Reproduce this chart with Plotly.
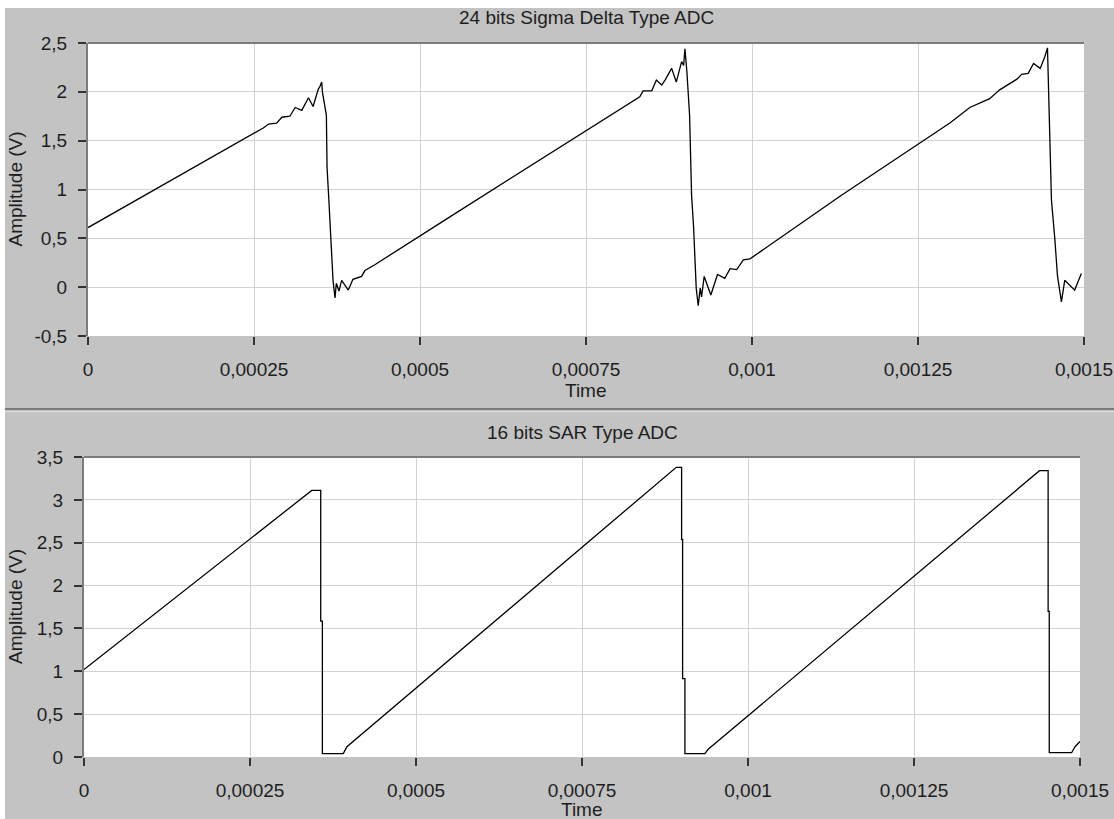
import plotly.graph_objects as go

W, H = 1114, 819

# ---------------- data ----------------
sd_title = "24 bits Sigma Delta Type ADC"
sar_title = "16 bits SAR Type ADC"
x_label = "Time"
y_label = "Amplitude (V)"

sd_time = [0, 2.44e-4, 2.64e-4, 2.72e-4, 2.84e-4, 2.92e-4, 3.04e-4, 3.12e-4, 3.22e-4,
           3.32e-4, 3.39e-4, 3.47e-4, 3.49e-4, 3.52e-4, 3.53e-4, 3.59e-4, 3.60e-4,
           3.63e-4, 3.66e-4, 3.69e-4, 3.72e-4, 3.74e-4, 3.78e-4, 3.82e-4, 3.92e-4,
           3.99e-4, 4.12e-4, 4.17e-4, 4.32e-4, 5.45e-4,
           8.31e-4, 8.36e-4, 8.49e-4, 8.56e-4, 8.64e-4, 8.69e-4, 8.79e-4, 8.86e-4,
           8.94e-4, 8.97e-4, 8.99e-4, 9.02e-4, 9.06e-4, 9.07e-4, 9.09e-4, 9.12e-4,
           9.14e-4, 9.16e-4, 9.19e-4, 9.22e-4, 9.24e-4, 9.28e-4, 9.38e-4, 9.48e-4,
           9.59e-4, 9.67e-4, 9.77e-4, 9.87e-4, 9.97e-4, 1.1325e-3,
           1.298e-3, 1.321e-3, 1.328e-3, 1.358e-3, 1.373e-3, 1.399e-3, 1.406e-3,
           1.416e-3, 1.424e-3, 1.434e-3, 1.441e-3, 1.445e-3, 1.446e-3, 1.449e-3,
           1.451e-3, 1.456e-3, 1.460e-3, 1.464e-3, 1.466e-3, 1.471e-3, 1.486e-3,
           1.496e-3]
sd_volts = [0.61, 1.56, 1.63, 1.67, 1.68, 1.74, 1.75, 1.84, 1.81,
            1.94, 1.85, 2.03, 2.05, 2.10, 2.00, 1.76, 1.23,
            0.86, 0.47, 0.07, -0.11, 0.04, -0.04, 0.07, -0.03,
            0.08, 0.11, 0.17, 0.23, 0.72,
            1.95, 2.01, 2.01, 2.12, 2.07, 2.12, 2.24, 2.10,
            2.31, 2.27, 2.44, 2.20, 1.76, 1.34, 0.94, 0.62,
            0.30, -0.01, -0.19, -0.01, -0.10, 0.11, -0.08, 0.13,
            0.09, 0.19, 0.18, 0.28, 0.29, 0.93,
            1.68, 1.81, 1.84, 1.93, 2.02, 2.13, 2.18,
            2.19, 2.29, 2.24, 2.36, 2.45, 2.15, 1.52,
            0.89, 0.50, 0.12, -0.06, -0.15, 0.07, -0.03,
            0.14]

sar_time = [0, 3.43e-4, 3.565e-4, 3.565e-4, 3.59e-4, 3.59e-4, 3.905e-4, 3.96e-4,
            8.92e-4, 9.00e-4, 9.00e-4, 9.015e-4, 9.015e-4, 9.05e-4, 9.05e-4, 9.35e-4, 9.40e-4,
            1.439e-3, 1.452e-3, 1.452e-3, 1.4537e-3, 1.4537e-3, 1.4874e-3, 1.4925e-3, 1.5e-3]
sar_volts = [1.02, 3.11, 3.11, 1.585, 1.585, 0.04, 0.04, 0.12,
             3.38, 3.38, 2.54, 2.54, 0.915, 0.915, 0.04, 0.04, 0.09,
             3.34, 3.34, 1.70, 1.70, 0.05, 0.05, 0.12, 0.18]

x_tick_vals = [0, 0.00025, 0.0005, 0.00075, 0.001, 0.00125, 0.0015]
x_tick_text = ["0", "0,00025", "0,0005", "0,00075", "0,001", "0,00125", "0,0015"]
sd_y_tick_vals = [-0.5, 0, 0.5, 1, 1.5, 2, 2.5]
sd_y_tick_text = ["-0,5", "0", "0,5", "1", "1,5", "2", "2,5"]
sar_y_tick_vals = [0, 0.5, 1, 1.5, 2, 2.5, 3, 3.5]
sar_y_tick_text = ["0", "0,5", "1", "1,5", "2", "2,5", "3", "3,5"]

# ---------------- layout helpers ----------------
def px(x):
    return x / W


def py(y):
    return 1 - y / H


FONT = "Liberation Sans, Arial, sans-serif"
TXT = "#1e1e1e"
BG = "#c3c3c3"
GRID = "#d2d2d2"
FRAME = "#7c7c7c"

# plot rectangles in pixels (left, top, right, bottom)
top_box = (88, 43, 1084, 336)
bot_box = (84, 457, 1080, 757)

fig = go.Figure()
fig.add_trace(go.Scatter(x=sd_time, y=sd_volts, mode="lines",
                         line=dict(color="black", width=1.3),
                         xaxis="x", yaxis="y", showlegend=False, hoverinfo="skip"))
fig.add_trace(go.Scatter(x=sar_time, y=sar_volts, mode="lines",
                         line=dict(color="black", width=1.3),
                         xaxis="x2", yaxis="y2", showlegend=False, hoverinfo="skip"))

tick_font = dict(family=FONT, size=19, color=TXT)


def xaxis(box, anchor):
    return dict(domain=[px(box[0]), px(box[2])], anchor=anchor, automargin=False,
                range=[0, 0.0015], tickmode="array", tickvals=x_tick_vals,
                ticktext=x_tick_text, ticks="outside", ticklen=8, tickwidth=1.5,
                tickcolor="#333333", showgrid=True, gridcolor=GRID, gridwidth=1,
                zeroline=False, showline=False, tickfont=tick_font,
                ticklabelstandoff=8, fixedrange=True)


def yaxis(box, anchor, rng, vals, text):
    return dict(domain=[py(box[3]), py(box[1])], anchor=anchor, automargin=False,
                range=rng, tickmode="array", tickvals=vals, ticktext=text,
                ticks="outside", ticklen=8, tickwidth=1.5, tickcolor="#333333",
                showgrid=True, gridcolor=GRID, gridwidth=1, zeroline=False,
                showline=True, linecolor=FRAME, linewidth=2,
                tickfont=tick_font, ticklabelstandoff=7, fixedrange=True)


shapes = [
    # white border strips (top and left)
    dict(type="rect", xref="paper", yref="paper", x0=0, x1=1, y0=py(8), y1=1,
         fillcolor="white", line=dict(width=0), layer="above"),
    dict(type="rect", xref="paper", yref="paper", x0=0, x1=px(5), y0=0, y1=1,
         fillcolor="white", line=dict(width=0), layer="above"),
    # separator between the two graphs
    dict(type="line", xref="paper", yref="paper", x0=px(5), x1=1, y0=py(409), y1=py(409),
         line=dict(color="#7a7a7a", width=2)),
    dict(type="line", xref="paper", yref="paper", x0=px(5), x1=1, y0=py(411.5), y1=py(411.5),
         line=dict(color="#dadada", width=1)),
    # top frame edges of plot areas
    dict(type="line", xref="paper", yref="paper", x0=px(top_box[0]), x1=px(top_box[2]),
         y0=py(top_box[1]), y1=py(top_box[1]), line=dict(color=FRAME, width=2)),
    dict(type="line", xref="paper", yref="paper", x0=px(bot_box[0]), x1=px(bot_box[2]),
         y0=py(bot_box[1]), y1=py(bot_box[1]), line=dict(color=FRAME, width=2)),
]

lab_font = dict(family=FONT, size=19, color=TXT)
annotations = [
    dict(text=sd_title, x=px((top_box[0] + top_box[2]) / 2), y=py(17), xref="paper", yref="paper",
         xanchor="center", yanchor="middle", showarrow=False, font=lab_font),
    dict(text=sar_title, x=px((bot_box[0] + bot_box[2]) / 2), y=py(432), xref="paper", yref="paper",
         xanchor="center", yanchor="middle", showarrow=False, font=lab_font),
    dict(text=x_label, x=px((top_box[0] + top_box[2]) / 2), y=py(390), xref="paper", yref="paper",
         xanchor="center", yanchor="middle", showarrow=False, font=lab_font),
    dict(text=x_label, x=px((bot_box[0] + bot_box[2]) / 2), y=py(809), xref="paper", yref="paper",
         xanchor="center", yanchor="middle", showarrow=False, font=lab_font),
    dict(text=y_label, x=px(15), y=py((top_box[1] + top_box[3]) / 2), xref="paper", yref="paper",
         xanchor="center", yanchor="middle", textangle=-90, showarrow=False, font=lab_font),
    dict(text=y_label, x=px(15), y=py((bot_box[1] + bot_box[3]) / 2), xref="paper", yref="paper",
         xanchor="center", yanchor="middle", textangle=-90, showarrow=False, font=lab_font),
]

fig.update_layout(
    width=W, height=H, autosize=False,
    margin=dict(l=0, r=0, t=0, b=0, pad=0),
    paper_bgcolor=BG, plot_bgcolor="white",
    xaxis=xaxis(top_box, "y"),
    yaxis=yaxis(top_box, "x", [-0.5, 2.5], sd_y_tick_vals, sd_y_tick_text),
    xaxis2=xaxis(bot_box, "y2"),
    yaxis2=yaxis(bot_box, "x2", [0, 3.5], sar_y_tick_vals, sar_y_tick_text),
    shapes=shapes, annotations=annotations, showlegend=False,
    font=dict(family=FONT, color=TXT),
)

fig.write_html(
    "out.html",
    config={"displayModeBar": False, "responsive": False},
    post_script="document.body.style.margin='0px'; document.body.style.overflow='hidden';",
)
